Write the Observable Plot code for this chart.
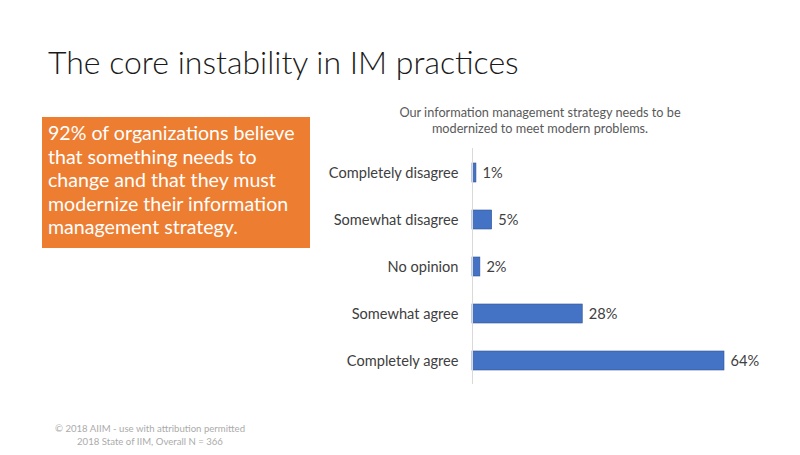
<!DOCTYPE html>
<html>
<head>
<meta charset="utf-8">
<script src="https://cdn.jsdelivr.net/npm/d3@7"></script>
<script src="https://cdn.jsdelivr.net/npm/@observablehq/plot@0.6"></script>
<style>
  html, body { margin: 0; padding: 0; background: #fff; }
  #wrap { position: relative; width: 800px; height: 455px; overflow: hidden; font-family: Lato, "Open Sans", sans-serif; }
  #wrap svg { position: absolute; left: 0; top: 0; }
  .title { position: absolute; left: 48px; top: 42px; font-size: 32px; font-weight: 300; color: #1a1a1a; white-space: nowrap; }
  .callout { position: absolute; left: 42px; top: 117px; width: 268px; height: 131px; background: #ED7D31; color: #fff; box-sizing: border-box; padding: 4px 6px 0 6px; font-size: 19.6px; line-height: 23.6px; }
  .ctitle { position: absolute; left: 340px; width: 400px; top: 104px; text-align: center; font-size: 12.7px; line-height: 16px; color: #595959; }
  .foot { position: absolute; left: 30px; width: 240px; top: 423px; text-align: center; font-size: 9.6px; line-height: 12.5px; color: #ababab; }
</style>
</head>
<body>
<div id="wrap">
  <div class="title">The core instability in IM practices</div>
  <div class="callout">92% of organizations believe that something needs to change and that they must modernize their information management strategy.</div>
  <div class="ctitle">Our information management strategy needs to be<br>modernized to meet modern problems.</div>
  <div class="foot">© 2018 AIIM - use with attribution permitted<br>2018 State of IIM, Overall N = 366</div>
</div>
<script>
const categories = ["Completely disagree", "Somewhat disagree", "No opinion", "Somewhat agree", "Completely agree"];
const values = [1, 5, 2, 28, 64];
const data = categories.map((c, i) => ({category: c, value: values[i]}));

const chart = Plot.plot({
  width: 800,
  height: 455,
  marginLeft: 472,
  marginRight: 76,
  marginTop: 148,
  marginBottom: 71,
  style: { fontFamily: "Lato, 'Open Sans', sans-serif", background: "transparent", overflow: "visible" },
  x: { domain: [0, 64], axis: null },
  y: { domain: categories, paddingInner: 0.6, paddingOuter: 0.3, label: null },
  marks: [
    Plot.barX(data, { x: "value", y: "category", fill: "#4472C4", stroke: "#2F5597", strokeWidth: 0.6 }),
    Plot.ruleX([0], { stroke: "#d9d9d9", strokeWidth: 1 }),
    Plot.axisY({ tickSize: 0, tickPadding: 14, fontSize: 14.6, fill: "#404040", label: null }),
    Plot.text(data, { x: "value", y: "category", text: d => d.value + "%", dx: 6, textAnchor: "start", fontSize: 14.6, fill: "#404040" })
  ]
});
document.getElementById("wrap").prepend(chart);
</script>
</body>
</html>
